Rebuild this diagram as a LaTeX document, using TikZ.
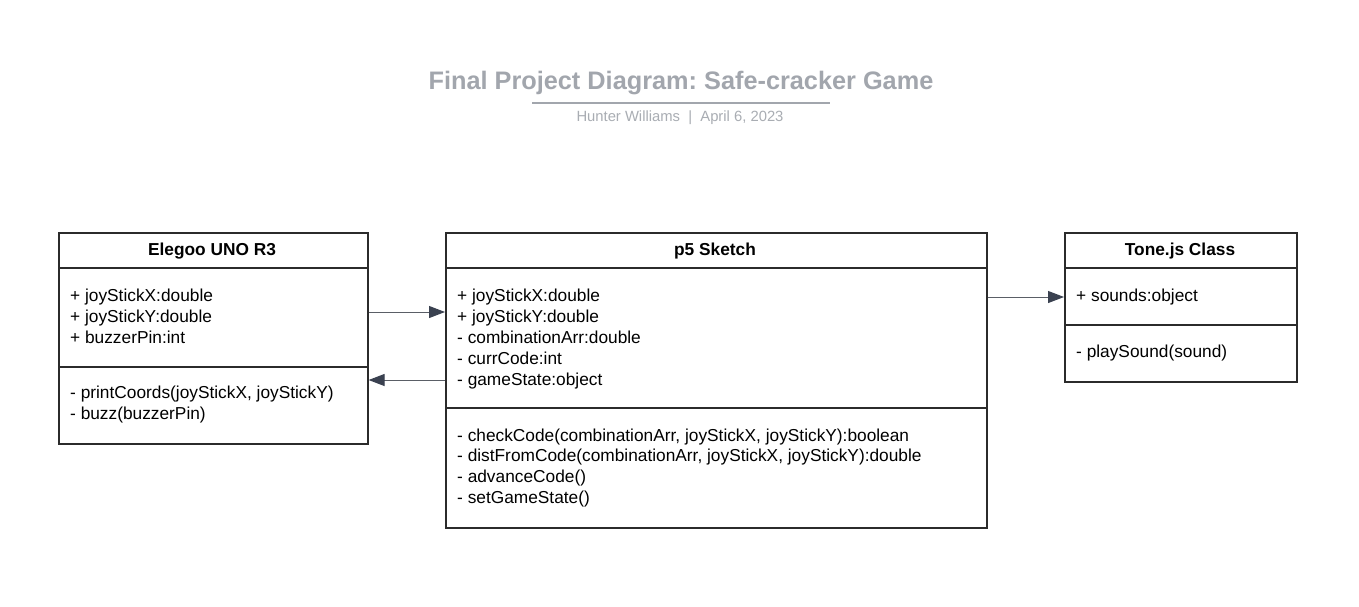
\documentclass[tikz,border=0pt]{standalone}
\usepackage{fontspec}
\setmainfont{Liberation Sans}
\usetikzlibrary{arrows.meta}
\frenchspacing
\definecolor{titlegray}{HTML}{A2A6AD}
\definecolor{subgray}{HTML}{A9ADB3}
\definecolor{boxline}{HTML}{2B2B2B}
\definecolor{arrline}{HTML}{5A5E66}
\definecolor{arrhead}{HTML}{3A4150}
\begin{document}
\begin{tikzpicture}[x=1pt,y=-1pt,
  umlbox/.style={draw=boxline, line width=1.6pt, anchor=north west, inner sep=0pt, fill=none},
  divider/.style={draw=boxline, line width=1.6pt},
  txt/.style={anchor=base west, inner sep=0pt, text=black, font=\fontsize{17.3}{20}\selectfont},
  hdr/.style={anchor=base, inner sep=0pt, text=black, font=\bfseries\fontsize{17.3}{20}\selectfont},
  conn/.style={draw=arrline, line width=1pt, -{Triangle[length=16pt,width=12pt,color=arrhead]}}
]
\useasboundingbox (0,0) rectangle (1359,606);
\fill[white] (0,0) rectangle (1359,606);

% title
\node[anchor=base, inner sep=0pt, text=titlegray, font=\bfseries\fontsize{25.3}{30}\selectfont] (title) at (681,89) {Final Project Diagram: Safe-cracker Game};
\coordinate (ulL) at (532,103);
\coordinate (ulR) at (830,103);
\draw[titlegray, line width=1.6pt] (ulL) -- (ulR);
\node[anchor=base, inner sep=0pt, text=subgray, font=\fontsize{14.8}{17}\selectfont] (sub) at (680,121) {Hunter Williams\ \ |\ \ April 6, 2023};

% boxes
\node[umlbox, minimum width=309pt, minimum height=211pt] (elegoo) at (58,232) {};
\node[umlbox, minimum width=541pt, minimum height=295pt] (p5) at (445,232) {};
\node[umlbox, minimum width=232pt, minimum height=149pt] (tone) at (1064,232) {};

% dividers
\draw[divider] (58,268) -- (367,268);
\draw[divider] (58,367) -- (367,367);
\draw[divider] (445,268) -- (986,268);
\draw[divider] (445,408) -- (986,408);
\draw[divider] (1064,268) -- (1296,268);
\draw[divider] (1064,325) -- (1296,325);

% headers
\node[hdr] (elegooH) at (212,255) {Elegoo UNO R3};
\node[hdr] (p5H) at (715,255) {p5 Sketch};
\node[hdr] (toneH) at (1180,255) {Tone.js Class};

% Elegoo text
\node[txt] (e1) at (70,301) {+ joyStickX:double};
\node[txt] (e2) at (70,322) {+ joyStickY:double};
\node[txt] (e3) at (70,343) {+ buzzerPin:int};
\node[txt] (e4) at (70,398) {- printCoords(joyStickX, joyStickY)};
\node[txt] (e5) at (70,419) {- buzz(buzzerPin)};

% p5 text
\node[txt] (p1) at (457,301) {+ joyStickX:double};
\node[txt] (p2) at (457,322) {+ joyStickY:double};
\node[txt] (p3) at (457,343) {- combinationArr:double};
\node[txt] (p4) at (457,364) {- currCode:int};
\node[txt] (p5t) at (457,385) {- gameState:object};
\node[txt] (p6) at (457,441) {- checkCode(combinationArr, joyStickX, joyStickY):boolean};
\node[txt] (p7) at (457,461) {- distFromCode(combinationArr, joyStickX, joyStickY):double};
\node[txt] (p8) at (457,482) {- advanceCode()};
\node[txt] (p9) at (457,503) {- setGameState()};

% Tone text
\node[txt] (t1) at (1076,301) {+ sounds:object};
\node[txt] (t2) at (1076,357) {- playSound(sound)};

% connectors
\draw[conn] (elegoo.east |- 0,312) -- (p5.west |- 0,312);
\draw[conn] (p5.west |- 0,380) -- (elegoo.east |- 0,380);
\draw[conn] (p5.east |- 0,297) -- (tone.west |- 0,297);
\end{tikzpicture}
\end{document}
